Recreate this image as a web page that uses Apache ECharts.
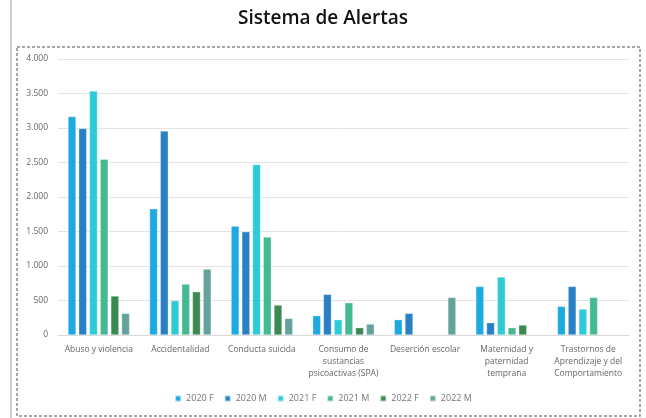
<!DOCTYPE html>
<html lang="es">
<head>
    <meta charset="UTF-8">
    <title>Sistema de Alertas</title>
    <script src="https://cdn.jsdelivr.net/npm/echarts@6/dist/echarts.min.js"></script>
    <style>
        html, body { margin: 0; padding: 0; background: #fff; }
    </style>
</head>
<body>
<div id="myDiv" style="width: 646px;height: 418px"></div>
<script>
    // datos
    var categorias = ["Abuso y violencia", "Accidentalidad", "Conducta suicida",
        "Consumo de\nsustancias\npsicoactivas (SPA)", "Deserción escolar",
        "Maternidad y\npaternidad\ntemprana", "Trastornos de\nAprendizaje y del\nComportamiento"];
    var series2020F = [3165, 1829, 1578, 280, 222, 704, 415];
    var series2020M = [2992, 2958, 1496, 589, 314, 178, 704];
    var series2021F = [3537, 497, 2470, 222, null, 840, 376];
    var series2021M = [2548, 738, 1419, 468, null, 106, 545];
    var series2022F = [565, 627, 434, 106, null, 145, null];
    var series2022M = [314, 955, 241, 159, 545, null, null];
    var nombres = ["2020 F", "2020 M", "2021 F", "2021 M", "2022 F", "2022 M"];
    var colores = ["#1fa9e1", "#2a80c5", "#2ccbd7", "#45b993", "#3b8a52", "#63a39c"];

    var valores = [series2020F, series2020M, series2021F, series2021M, series2022F, series2022M];
    var series = [];
    for (let i = 0; i < nombres.length; i++) {
        series.push({
            name: nombres[i],
            type: 'bar',
            data: valores[i],
            barWidth: 8,
            barGap: '34%',
            itemStyle: {color: colores[i], borderColor: 'rgba(255,255,255,0.6)', borderWidth: 0.5}
        });
    }

    let mainChart = echarts.init(document.getElementById("myDiv"));
    var option = {
        animation: false,
        title: {
            text: "Sistema de Alertas",
            left: "center",
            top: 4,
            textStyle: {fontFamily: "Open Sans", fontSize: 19, fontWeight: 600, color: "#111"}
        },
        graphic: [
            {type: 'line', shape: {x1: 11, y1: 0, x2: 11, y2: 418}, style: {stroke: '#d0d0d0', lineWidth: 2}},
            {type: 'rect', shape: {x: 17, y: 47, width: 623, height: 369},
                style: {fill: 'none', stroke: '#8a8a8a', lineWidth: 1.5, lineDash: [3, 2]}}
        ],
        legend: {
            data: nombres,
            bottom: 10,
            left: 'center',
            itemWidth: 6,
            itemHeight: 6,
            itemGap: 10,
            icon: 'rect',
            textStyle: {fontFamily: "Open Sans", fontSize: 9, color: "#777"}
        },
        grid: {left: 58, right: 17, top: 59, bottom: 83},
        xAxis: {
            type: 'category',
            data: categorias,
            axisTick: {show: false},
            axisLine: {lineStyle: {color: '#d9d9d9'}},
            axisLabel: {interval: 0, fontFamily: "Open Sans", fontSize: 8.5, color: "#666", lineHeight: 12, margin: 9}
        },
        yAxis: {
            type: 'value',
            min: 0,
            max: 4000,
            interval: 500,
            axisLabel: {
                fontFamily: "Open Sans", fontSize: 8.5, color: "#666", margin: 10,
                formatter: function (v) { return v.toString().replace(/\B(?=(\d{3})+(?!\d))/g, "."); }
            },
            splitLine: {lineStyle: {color: '#e3e3e3'}}
        },
        series: series
    };
    mainChart.setOption(option);
</script>
</body>
</html>
